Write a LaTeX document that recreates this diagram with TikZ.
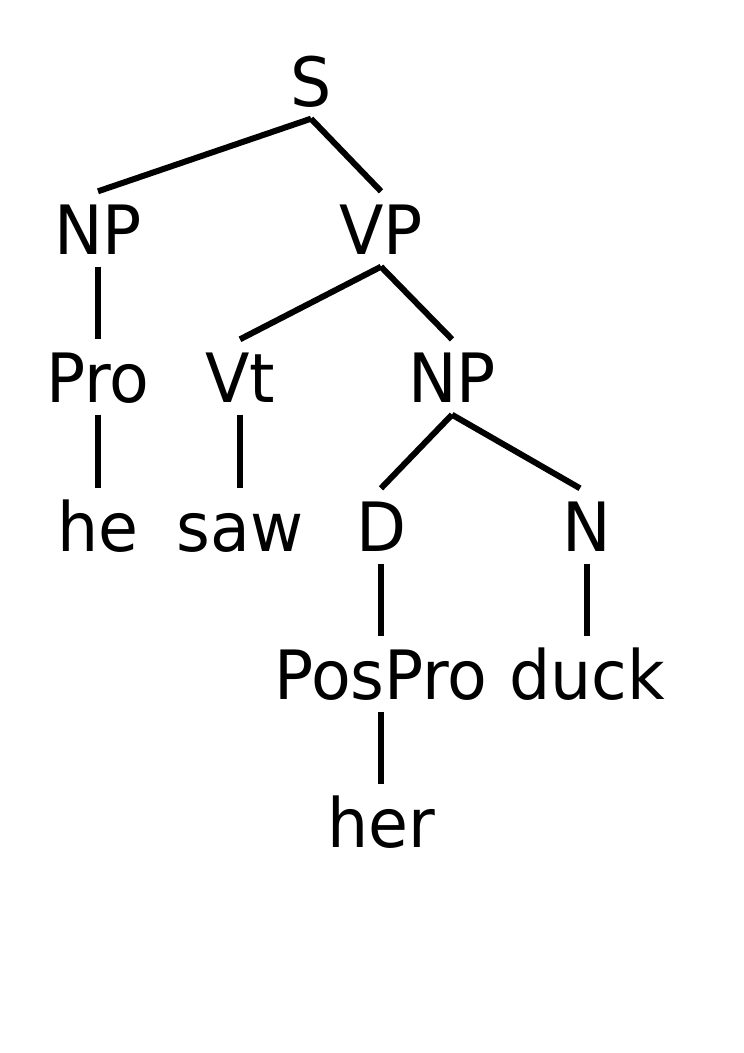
\documentclass[tikz,border=0pt]{standalone}
\usepackage{fontspec}
\setmainfont{DejaVu Sans}[FakeStretch=0.955]
\begin{document}
\begin{tikzpicture}[x=1pt,y=-1pt,
  lbl/.style={anchor=base,inner xsep=0pt,inner ysep=12.5pt,text height=50pt,text depth=0pt,
    font=\fontsize{68}{80}\selectfont},
  edge/.style={line width=6pt}]
\useasboundingbox (0,0) rectangle (744,1053);
\node[lbl] (S) at (311,106) {S};
\node[lbl] (NP) at (98,254) {NP};
\node[lbl] (VP) at (381,254) {VP};
\node[lbl] (Pro) at (98,402) {Pro};
\node[lbl] (Vt) at (240,402) {Vt};
\node[lbl] (NPb) at (452,402) {NP};
\node[lbl] (he) at (98,551) {he};
\node[lbl] (saw) at (240,551) {saw};
\node[lbl] (D) at (381,551) {D};
\node[lbl] (N) at (587,551) {N};
\node[lbl] (PosPro) at (381,699) {PosPro};
\node[lbl] (duck) at (587,699) {duck};
\node[lbl] (her) at (381,847) {her};
\draw[edge] (S.south) -- (NP.north);
\draw[edge] (S.south) -- (VP.north);
\draw[edge] (NP.south) -- (Pro.north);
\draw[edge] (Pro.south) -- (he.north);
\draw[edge] (VP.south) -- (Vt.north);
\draw[edge] (VP.south) -- (NPb.north);
\draw[edge] (Vt.south) -- (saw.north);
\draw[edge] (NPb.south) -- (D.north);
\draw[edge] (NPb.south) -- ([xshift=-7pt]N.north);
\draw[edge] (D.south) -- (PosPro.north);
\draw[edge] (N.south) -- (duck.north);
\draw[edge] (PosPro.south) -- (her.north);
\end{tikzpicture}
\end{document}
